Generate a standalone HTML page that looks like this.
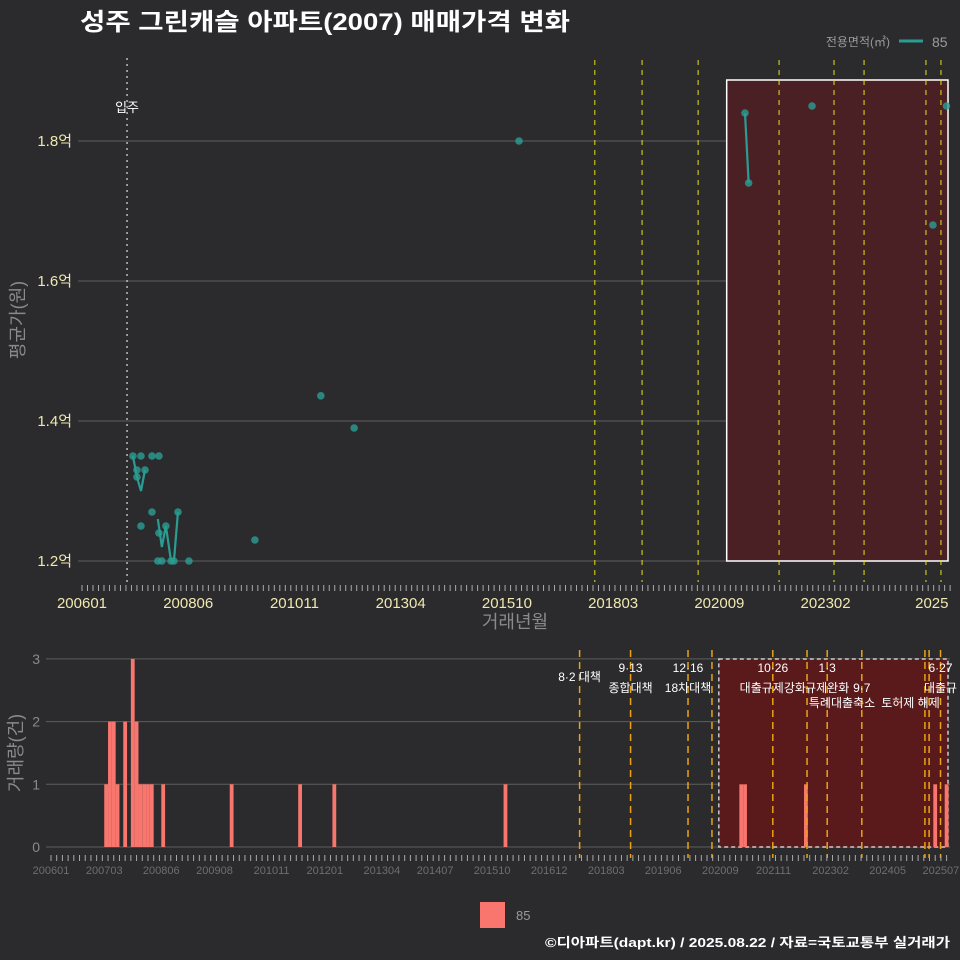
<!DOCTYPE html>
<html><head><meta charset="utf-8">
<style>
html,body{margin:0;padding:0;background:#2b2b2d;}
svg{display:block;font-family:"Liberation Sans","Noto Sans CJK KR",sans-serif;}
</style></head>
<body>
<svg id="c" width="960" height="960" viewBox="0 0 960 960" xmlns="http://www.w3.org/2000/svg">
<rect x="0" y="0" width="960" height="960" fill="#2b2b2d"/>
<text x="80" y="30" fill="#ffffff" font-size="24" font-weight="bold" textLength="490" lengthAdjust="spacingAndGlyphs">성주 그린캐슬 아파트(2007) 매매가격 변화</text>
<text x="890" y="46" fill="#9a9a9a" font-size="12" text-anchor="end">전용면적(㎡)</text>
<line x1="899" y1="41" x2="923" y2="41" stroke="#2a9d93" stroke-width="3"/>
<text x="932" y="47" fill="#9a9a9a" font-size="14">85</text>
<g id="gtop"></g>
<g id="gbot"></g>
<rect x="480" y="902" width="25" height="26" fill="#f8766d"/>
<text x="516" y="920" fill="#9a9a9a" font-size="13">85</text>
<text x="950" y="947" fill="#ffffff" font-size="13" font-weight="bold" text-anchor="end" textLength="405" lengthAdjust="spacingAndGlyphs">©디아파트(dapt.kr) / 2025.08.22 / 자료=국토교통부 실거래가</text>
</svg>
<script>
// months since 2006-01
const pointMonths=[13.9,16.1,19.1,21,15,17.2,15,19.1,16.1,26.2,21,22.9,20.7,21.8,24.3,25.1,29.2,47.2,65.2,74.3,119.3,181,182,199.3,232.3,236];
const pointValues=[1.35,1.35,1.35,1.35,1.33,1.33,1.32,1.27,1.25,1.27,1.24,1.25,1.2,1.2,1.2,1.2,1.2,1.23,1.436,1.39,1.8,1.84,1.74,1.85,1.68,1.85];
const line1Months=[13.9,15,16.1,17.2];
const line1Values=[1.35,1.32,1.30,1.33];
const line2Months=[20.7,21.8,22.9,24.3,25.1,26.2];
const line2Values=[1.26,1.22,1.25,1.2,1.2,1.27];
const line3Months=[181,182];
const line3Values=[1.84,1.74];
const barMonths=[14,15,16,17,19,21,22,23,24,25,26,29,47,65,74,119,181,182,198,232,235];
const barCounts=[1,2,2,1,2,3,2,1,1,1,1,1,1,1,1,1,1,1,1,1,1];
const topPolicyMonths=[140.0,152.9,168.2,190.3,205.3,213.5,230.4,234.5];
const policyMonths=[139.0,152.4,167.5,173.8,189.8,198.8,204.1,213.2,229.8,230.9,233.9];
const topTickLabels=["200601","200806","201011","201304","201510","201803","202009","202302","2025"];
const topTickMonths=[0,29,58,87,116,145,174,203,232];
const botTickLabels=["200601","200703","200806","200908","201011","201201","201304","201407","201510","201612","201803","201906","202009","202111","202302","202405","202507"];
const botTickMonths=[0,14,29,43,58,72,87,101,116,131,146,161,176,190,205,220,234];
const yTicks=[1.2,1.4,1.6,1.8];
const yLabels=["1.2억","1.4억","1.6억","1.8억"];
const cTicks=[0,1,2,3];
const moveInMonth=12.3;
const highlightStart=176;
const annotations=[
 {m:139.0,t:"8·2 대책",row:1},
 {m:152.4,t:"9·13",row:0},{m:152.4,t:"종합대책",row:2},
 {m:167.5,t:"12·16",row:0},{m:167.5,t:"18차대책",row:2},
 {m:189.8,t:"10·26",row:0},{m:189.8,t:"대출규제강화",row:2},
 {m:204.1,t:"1·3",row:0},{m:204.1,t:"규제완화",row:2},
 {m:213.2,t:"9·7",row:2},{m:208,t:"특례대출축소",row:3},{m:226,t:"토허제 해제",row:3},
 {m:233.9,t:"6·27",row:0},{m:233.9,t:"대출규",row:2}
];
const NS="http://www.w3.org/2000/svg";
function mk(p,tag,a,txt){const e=document.createElementNS(NS,tag);for(const k in a)e.setAttribute(k,a[k]);if(txt!==undefined)e.textContent=txt;p.appendChild(e);return e;}
const tx=m=>82+m*3.663, ty=v=>561-(v-1.2)*700;
const bx=m=>51+m*3.803, by=c=>847-c*62.7;
const gTop=document.getElementById('gtop'), gBot=document.getElementById('gbot');
yTicks.forEach((v,i)=>{
 const g=mk(gTop,'line',{x1:78,x2:948,y1:ty(v),y2:ty(v),stroke:'#5e5e5e','stroke-width':1});
 
 
 const t=mk(gTop,'text',{x:72,y:ty(v)+5,fill:'#f0e8b0','font-size':15,'text-anchor':'end'},yLabels[i]);
 
 
});
let r=mk(gTop,'rect',{x:tx(highlightStart),y:80,width:948-tx(highlightStart),height:481,fill:'#4a2024',stroke:'#ffffff','stroke-width':1.5});


for(let m=0;m<=238;m+=1.5){
 const l=mk(gTop,'line',{x1:tx(m),x2:tx(m),y1:585,y2:591,stroke:'#aaaaaa','stroke-width':1});
 
 
}
topTickMonths.forEach((m,i)=>{
 const t=mk(gTop,'text',{x:tx(m),y:608,fill:'#f0e8b0','font-size':15,'text-anchor':'middle'},topTickLabels[i]);
 
 
});
let tt=mk(gTop,'text',{x:515,y:628,fill:'#8a8a8a','font-size':18,'text-anchor':'middle'},'거래년월');


tt=mk(gTop,'text',{x:24,y:320,fill:'#8a8a8a','font-size':18,'text-anchor':'middle',transform:'rotate(-90 24 320)'},'평균가(원)');


let mv=mk(gTop,'line',{x1:tx(moveInMonth),x2:tx(moveInMonth),y1:58,y2:582,stroke:'#bbbbbb','stroke-width':1.5,'stroke-dasharray':'2 4'});


mv=mk(gTop,'text',{x:tx(moveInMonth),y:112,fill:'#ffffff','font-size':13,'text-anchor':'middle'},'입주');


topPolicyMonths.forEach(m=>{
 const l=mk(gTop,'line',{x1:tx(m),x2:tx(m),y1:60,y2:582,stroke:'#e6e01e','stroke-width':1,'stroke-dasharray':'5 5'});
 
 
});
[[line1Months,line1Values],[line2Months,line2Values],[line3Months,line3Values]].forEach(([ms,vs])=>{
 const p=mk(gTop,'polyline',{points:ms.map((m,i)=>tx(m)+','+ty(vs[i])).join(' '),fill:'none',stroke:'#2a9d93','stroke-width':2.2});
 
 
});
pointMonths.forEach((m,i)=>{
 const c=mk(gTop,'circle',{cx:tx(m),cy:ty(pointValues[i]),r:3.8,fill:'#2a9d93','fill-opacity':0.8});
 
 
});
cTicks.forEach(c=>{
 const g=mk(gBot,'line',{x1:46,x2:950,y1:by(c),y2:by(c),stroke:'#5e5e5e','stroke-width':1});
 
 
 const t=mk(gBot,'text',{x:40,y:by(c)+5,fill:'#8a8a8a','font-size':14,'text-anchor':'end'},String(c));
 
 
});
r=mk(gBot,'rect',{x:bx(175.6),y:659,width:948-bx(175.6),height:188,fill:'#5a1a1c',stroke:'#cccccc','stroke-width':1.5,'stroke-dasharray':'4 3'});


barMonths.forEach((m,i)=>{
 const b=mk(gBot,'rect',{x:bx(m),y:by(barCounts[i]),width:3.8,height:847-by(barCounts[i]),fill:'#f8766d'});
 
 
});
policyMonths.forEach(m=>{
 const l=mk(gBot,'line',{x1:bx(m),x2:bx(m),y1:650,y2:858,stroke:'#e8a317','stroke-width':1.5,'stroke-dasharray':'7 5'});
 
 
});
const rowY=[672,681,692,707];
annotations.forEach(a=>{
 const t=mk(gBot,'text',{x:bx(a.m),y:rowY[a.row],fill:'#ffffff','font-size':12,'text-anchor':'middle'},a.t);
 
 
});
for(let m=0;m<=236;m+=1.5){
 const l=mk(gBot,'line',{x1:bx(m),x2:bx(m),y1:855,y2:861,stroke:'#aaaaaa','stroke-width':1});
 
 
}
botTickMonths.forEach((m,i)=>{
 const t=mk(gBot,'text',{x:bx(m),y:874,fill:'#6e6e6e','font-size':11,'text-anchor':'middle'},botTickLabels[i]);
 
 
});
tt=mk(gBot,'text',{x:22,y:753,fill:'#8a8a8a','font-size':18,'text-anchor':'middle',transform:'rotate(-90 22 753)'},'거래량(건)');


</script>
</body></html>
